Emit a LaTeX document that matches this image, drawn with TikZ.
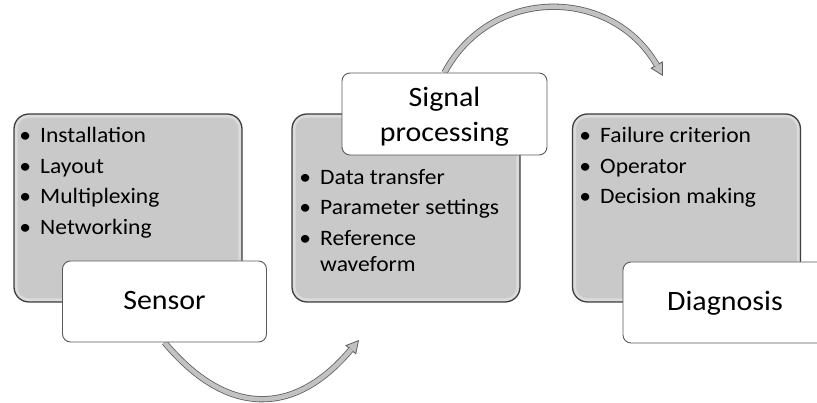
\documentclass[tikz,border=0pt]{standalone}
\usepackage{fontspec}
\setmainfont{Carlito}[FakeStretch=1.07]
\usetikzlibrary{arrows.meta,backgrounds,calc}
\definecolor{panelfill}{HTML}{C9C9C9}
\definecolor{paneledge}{HTML}{404040}
\definecolor{tagedge}{HTML}{5A5A5A}
\definecolor{flowfill}{HTML}{C2C2C2}
\definecolor{flowedge}{HTML}{5E5E5E}
\begin{document}
\begin{tikzpicture}[x=1pt,y=1pt,
  panel/.style={draw=paneledge, line width=1.3pt, fill=panelfill,
    rounded corners=15pt, minimum width=228pt, minimum height=188pt,
    inner sep=0pt},
  tag/.style={draw=tagedge, line width=0.9pt, fill=white,
    rounded corners=8pt, minimum width=204pt, minimum height=81pt,
    font=\fontsize{28}{34.5}\selectfont, align=center, inner sep=0pt,
    text height=17pt, text depth=0pt},
  item/.style={anchor=base west, inner sep=0pt,
    font=\fontsize{22}{26}\selectfont},
  flowtip/.style={flowedge, line width=0.8pt,
    -{Triangle[length=13pt, width=14pt, fill=flowfill]}},
  flowshaft/.style={draw=flowedge, line width=0.8pt, double=flowfill,
    double distance=4.6pt, shorten >=12pt}
]
\useasboundingbox (0,0) rectangle (817,403);

% three grey stage panels
\node[panel] (p1) at (128,195) {};
\node[panel] (p2) at (406,195) {};
\node[panel] (p3) at (686.5,195) {};

% soft inner highlight along the panel edges
\foreach \p in {p1,p2,p3}
  \draw[white, opacity=0.35, line width=2.5pt, rounded corners=12pt]
    ($(\p.south west)+(3,3)$) rectangle ($(\p.north east)+(-3,-3)$);

% white title tags
\node[tag] (sensor) at (164.5,101.5) {Sensor};
\node[tag, minimum width=205pt, minimum height=82pt,
  text height=55pt, text depth=0pt]
  (signal) at (444.5,289) {Signal\\processing};
\node[tag] (diag) at (725,100.5) {Diagnosis};

% bullet items
\newcommand{\bul}{\llap{•\hspace{9pt}}}
\node[item] (s1) at (40,260)   {\bul Installation};
\node[item] (s2) at (40,229.5) {\bul Layout};
\node[item] (s3) at (40,199)   {\bul Multiplexing};
\node[item] (s4) at (40,168.5) {\bul Networking};

\node[item] (g1) at (320,218.5) {\bul Data transfer};
\node[item] (g2) at (320,188)   {\bul Parameter settings};
\node[item] (g3) at (320,157.5) {\bul Reference};
\node[item] (g4) at (320,131.5) {waveform};

\node[item] (d1) at (600,260)   {\bul Failure criterion};
\node[item] (d2) at (600,229.5) {\bul Operator};
\node[item] (d3) at (600,199)   {\bul Decision making};

% curved flow arrows behind the boxes
\coordinate (f1) at (359,63);
\coordinate (f2) at (663,327);
\begin{scope}[on background layer]
  \draw[flowtip] (sensor.south) .. controls (227.8,-15) and (295.2,-13) .. (f1);
  \draw[flowshaft] (sensor.south) .. controls (227.8,-15) and (295.2,-13) .. (f1);
  \draw[flowtip] (signal.north) .. controls (491.8,418) and (612.2,416) .. (f2);
  \draw[flowshaft] (signal.north) .. controls (491.8,418) and (612.2,416) .. (f2);
\end{scope}
\end{tikzpicture}
\end{document}
